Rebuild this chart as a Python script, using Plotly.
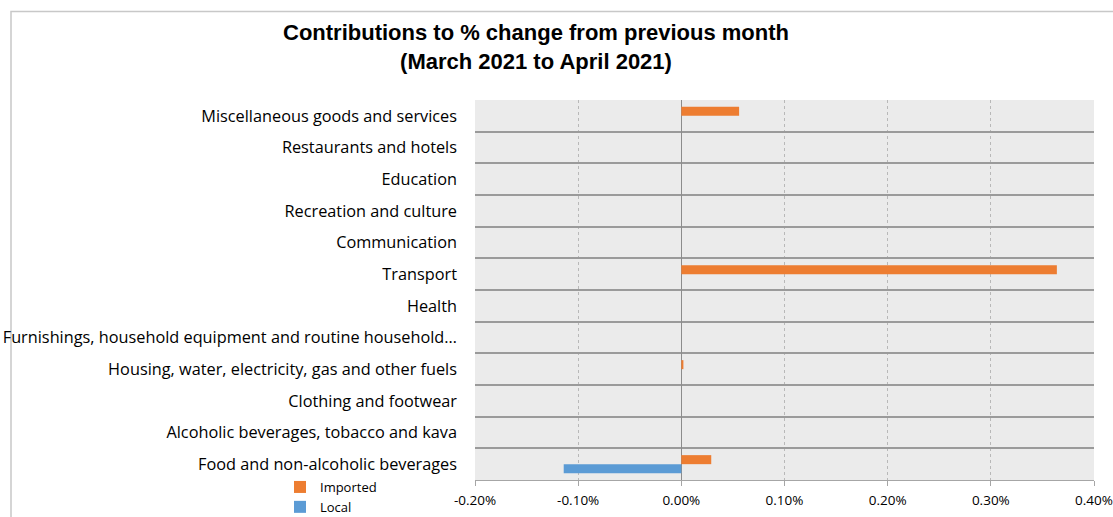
import plotly.graph_objects as go

categories = [
    "Food and non-alcoholic beverages",
    "Alcoholic beverages, tobacco and kava",
    "Clothing and footwear",
    "Housing, water, electricity, gas and other fuels",
    "Furnishings, household equipment and routine household…",
    "Health",
    "Transport",
    "Communication",
    "Recreation and culture",
    "Education",
    "Restaurants and hotels",
    "Miscellaneous goods and services",
]
local = [-0.00114, 0, 0, 0, 0, 0, 0, 0, 0, 0, 0, 0]
imported = [0.00029, 0, 0, 0.00002, 0, 0, 0.00364, 0, 0, 0, 0, 0.00056]
x_ticks = [-0.002, -0.001, 0, 0.001, 0.002, 0.003, 0.004]
x_ticktext = [f"{v * 100:.2f}%" for v in x_ticks]

fig = go.Figure()
fig.add_trace(go.Bar(y=categories, x=local, orientation="h", name="Local",
                     marker=dict(color="#5B9BD5", line=dict(width=0)), legendrank=2))
fig.add_trace(go.Bar(y=categories, x=imported, orientation="h", name="Imported",
                     marker=dict(color="#ED7D31", line=dict(width=0)), legendrank=1))

fig.update_layout(
    width=1113, height=517,
    margin=dict(l=475, r=19, t=100, b=37, autoexpand=False),
    paper_bgcolor="white",
    plot_bgcolor="#EBEBEB",
    barmode="group",
    bargap=0.43,
    bargroupgap=0,
    font=dict(family="Liberation Sans, Arial, sans-serif", color="#000"),
    title=dict(
        text="<b>Contributions to % change from previous month<br>(March 2021 to April 2021)</b>",
        x=536 / 1113, xanchor="center", y=1 - 40 / 517, yanchor="top",
        font=dict(size=22, family="Liberation Sans, Arial, sans-serif", color="#000"),
    ),
    legend=dict(
        x=(280 - 475) / 619, xanchor="left", y=(480 - 472) / 380, yanchor="top",
        font=dict(size=13, family="Open Sans, sans-serif"),
        bgcolor="rgba(0,0,0,0)", itemwidth=30, tracegroupgap=0,
    ),
    xaxis=dict(
        range=[-0.002, 0.004], tickvals=x_ticks, ticktext=x_ticktext,
        showgrid=True, gridcolor="#B8B8B8", griddash="dot", gridwidth=1,
        zeroline=True, zerolinecolor="#8C8C8C", zerolinewidth=1,
        showline=True, linecolor="#A6A6A6", linewidth=1,
        ticks="outside", ticklen=5, tickcolor="#A6A6A6", ticklabelstandoff=3,
        tickfont=dict(size=13.5, family="Open Sans, sans-serif", color="#000"),
        fixedrange=True, automargin=False,
    ),
    yaxis=dict(
        type="category", tickson="boundaries",
        showgrid=True, gridcolor="#9A9A9A", gridwidth=2,
        showline=False, ticks="", ticklabelstandoff=17,
        tickfont=dict(size=16.3, family="Open Sans, sans-serif", color="#000"),
        fixedrange=True, automargin=False,
    ),
    showlegend=True,
)

fig.add_shape(type="rect", xref="paper", yref="paper",
              x0=(11 - 475) / 619, x1=(1130 - 475) / 619,
              y0=(480 - 540) / 380, y1=(480 - 11.5) / 380,
              line=dict(color="#C8C8C8", width=1.5), fillcolor="rgba(0,0,0,0)", layer="below")

fig.write_html("out.html")
